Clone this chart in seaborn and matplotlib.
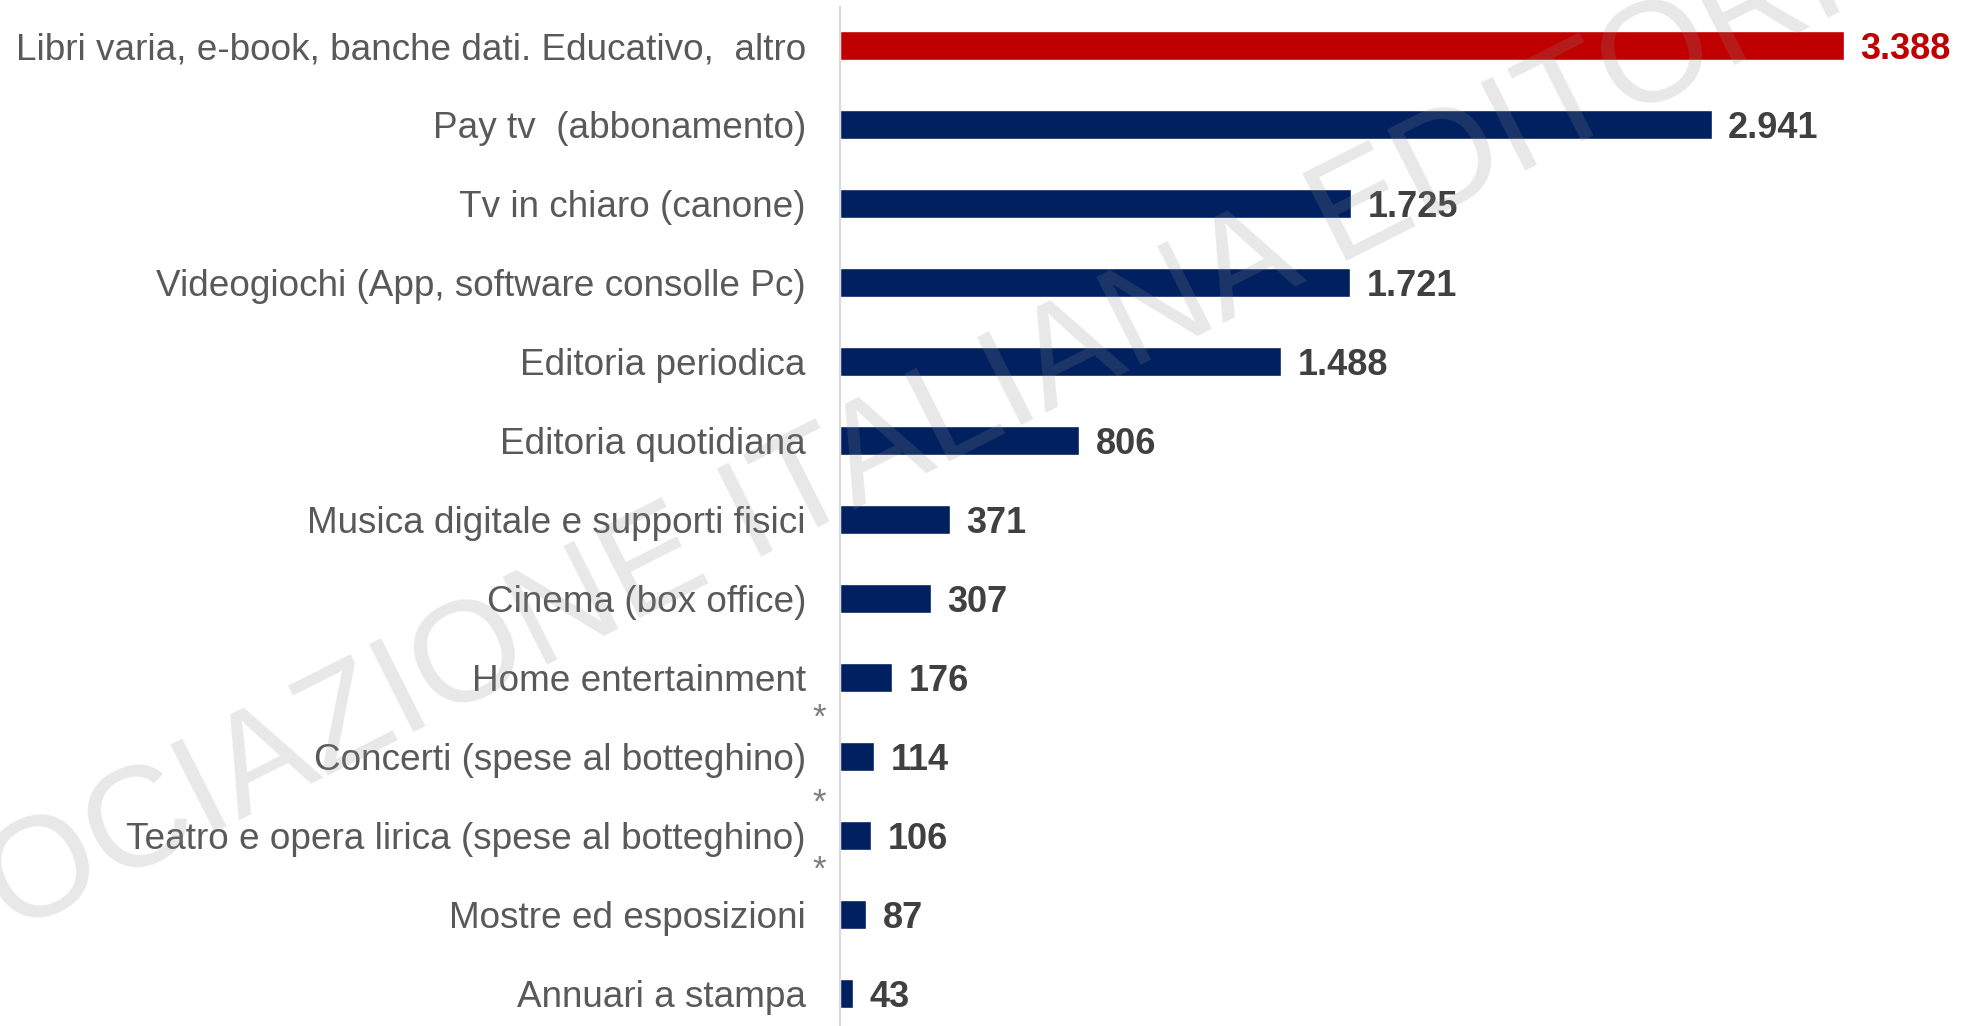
import matplotlib
matplotlib.use("Agg")
import matplotlib.pyplot as plt
import pandas as pd
import seaborn as sns

# data (milioni di euro)
categories = [
    "Libri varia, e-book, banche dati. Educativo,  altro",
    "Pay tv  (abbonamento)",
    "Tv in chiaro (canone)",
    "Videogiochi (App, software consolle Pc)",
    "Editoria periodica",
    "Editoria quotidiana",
    "Musica digitale e supporti fisici",
    "Cinema (box office)",
    "Home entertainment",
    "Concerti (spese al botteghino)",
    "Teatro e opera lirica (spese al botteghino)",
    "Mostre ed esposizioni",
    "Annuari a stampa",
]
values = [3388, 2941, 1725, 1721, 1488, 806, 371, 307, 176, 114, 106, 87, 43]
starred = ["Concerti (spese al botteghino)",
           "Teatro e opera lirica (spese al botteghino)",
           "Mostre ed esposizioni"]
star_dy = [28, 24, 32]   # points above the row, placed by hand in the original

NAVY = "#002060"
RED = "#C00000"
highlight = categories[0]

df = pd.DataFrame({"categoria": categories, "valore": values})
palette = {c: (RED if c == highlight else NAVY) for c in categories}

sns.set_theme(style="white")
plt.rcParams["font.family"] = ["Liberation Sans", "DejaVu Sans"]

fig = plt.figure(figsize=(19.67, 10.26), dpi=100)
ax = fig.add_axes([840 / 1967, 0, 1 - 840 / 1967, 1 - 7 / 1026])

sns.barplot(data=df, x="valore", y="categoria", hue="categoria",
            palette=palette, orient="h", width=0.367, legend=False,
            saturation=1, ax=ax)

ax.set_xlim(0, 3803)
ax.set_ylim(12.405, -0.49)
ax.set_xlabel("")
ax.set_ylabel("")
ax.set_xticks([])
ax.tick_params(axis="y", length=0, pad=24.5, labelsize=26.6, labelcolor="#595959")

for s in ["top", "right", "bottom"]:
    ax.spines[s].set_visible(False)
ax.spines["left"].set_color("#d9d9d9")
ax.spines["left"].set_linewidth(1.5)

# value labels, italian thousands separator
for cont, v, c in zip(ax.containers, values, categories):
    lab = f"{v:,}".replace(",", ".")
    txts = ax.bar_label(cont, labels=[lab], padding=12, fontsize=26, fontweight="bold",
                        color=(RED if c == highlight else "#404040"))
    for t in txts:
        t.set_va("center_baseline")

# asterisks above some labels
for c, dy in zip(starred, star_dy):
    i = categories.index(c)
    ax.annotate("*", xy=(0, i), xytext=(-15, dy), textcoords="offset points",
                ha="center", va="center", fontsize=25, color="#7f7f7f",
                annotation_clip=False)

# watermark
fig.text(804 / 1967, 1 - 535 / 1026, "ASSOCIAZIONE ITALIANA EDITORI",
         fontsize=103, color="#8c8c8c", alpha=0.2, rotation=26.8,
         rotation_mode="anchor", ha="center", va="baseline", zorder=10)

fig.savefig("out.png", dpi=100)
